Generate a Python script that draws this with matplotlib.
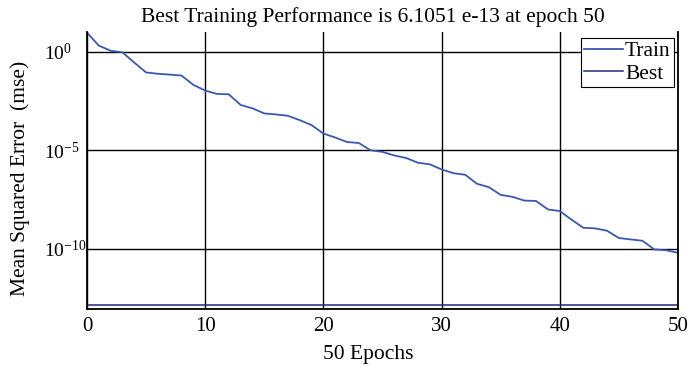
import matplotlib
matplotlib.use("Agg")
import matplotlib.pyplot as plt
import numpy as np

plt.rcParams['font.family'] = ['Liberation Serif', 'DejaVu Serif']
plt.rcParams['mathtext.fontset'] = 'custom'
plt.rcParams['mathtext.rm'] = 'Liberation Serif'
plt.rcParams['mathtext.it'] = 'Liberation Serif'

# training performance (log10 of mse)
epochs = list(range(0, 51))
log_mse = [0.97, 0.31, 0.05, -0.03, -0.55, -1.05, -1.12, -1.16, -1.21, -1.68,
           -1.97, -2.14, -2.16, -2.70, -2.87, -3.13, -3.18, -3.25, -3.47, -3.72,
           -4.15, -4.35, -4.58, -4.63, -5.00, -5.08, -5.26, -5.39, -5.63, -5.71,
           -5.97, -6.16, -6.24, -6.70, -6.87, -7.26, -7.36, -7.55, -7.57, -8.00,
           -8.08, -8.52, -8.93, -8.96, -9.08, -9.45, -9.52, -9.59, -10.03, -10.07,
           -10.20]
best_log = -12.87
xticks = [0, 10, 20, 30, 40, 50]
yticks = [1e0, 1e-5, 1e-10]
ytick_labels = [r'$10^{0}$', r'$10^{-5}$', r'$10^{-10}$']

fig = plt.figure(figsize=(6.98, 3.67), dpi=100)
ax = fig.add_axes([0.1246, 0.158, 0.8467, 0.7548])

mse = 10.0 ** np.array(log_mse)
ax.semilogy(epochs, mse, color='#3b58b0', lw=1.3, label='Train')
ax.axhline(10.0 ** best_log, color='#1f2a80', lw=1.1, label='Best')

ax.set_xlim(0, 50)
ax.set_ylim(10 ** -13.05, 10 ** 1.0)
ax.set_xticks(xticks)
ax.set_yticks(yticks)
ax.set_yticklabels(ytick_labels)
ax.minorticks_off()
ax.tick_params(axis='x', length=0, labelsize=15, pad=6)
ax.tick_params(axis='y', length=0, labelsize=14, pad=31)
for lab in ax.get_yticklabels():
    lab.set_horizontalalignment('left')
ax.grid(True, color='black', lw=1.0)

ax.spines['top'].set_visible(False)
for s in ['left', 'bottom', 'right']:
    ax.spines[s].set_linewidth(1.3)
    ax.spines[s].set_color('black')

ax.set_title('Best Training Performance is 6.1051 e-13 at epoch 50', fontsize=15.5, pad=7, x=0.483)
ax.set_xlabel('50 Epochs', fontsize=15.5, labelpad=6, x=0.476)
ax.set_ylabel('Mean Squared Error  (mse)', fontsize=15.5, labelpad=10, y=0.47)

leg = ax.legend(loc='upper right', bbox_to_anchor=(0.993, 0.978), fontsize=15.5,
                handlelength=1.8, handletextpad=0.1, borderpad=0.15,
                labelspacing=0.1, fancybox=False, framealpha=1,
                borderaxespad=0.0)
leg.get_frame().set_edgecolor('black')
leg.get_frame().set_linewidth(0.8)

fig.savefig('out.png', dpi=100)
